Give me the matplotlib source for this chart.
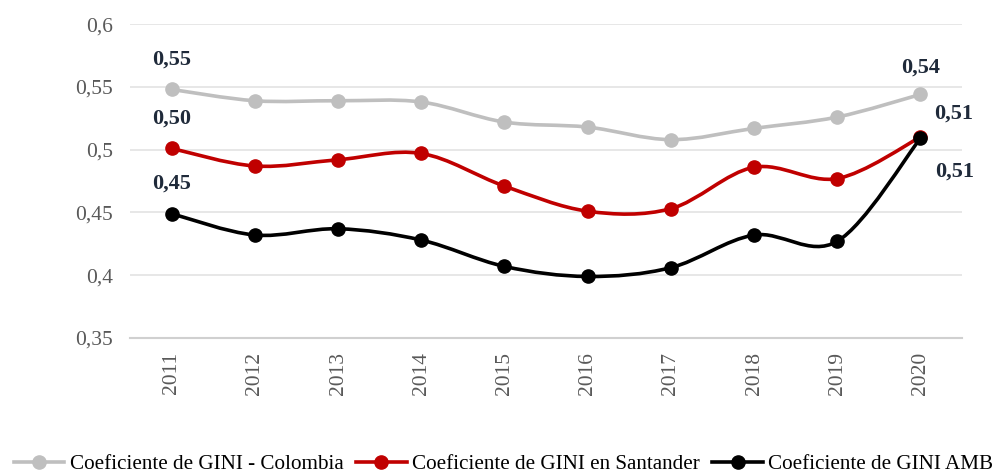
import numpy as np
import matplotlib.pyplot as plt
from matplotlib.path import Path
from matplotlib.patches import PathPatch
from matplotlib.lines import Line2D

plt.rcParams['font.family'] = ['Liberation Serif', 'DejaVu Serif']

years = ['2011', '2012', '2013', '2014', '2015', '2016', '2017', '2018', '2019', '2020']
colombia = [0.548, 0.539, 0.539, 0.538, 0.522, 0.518, 0.508, 0.517, 0.526, 0.544]
santander = [0.501, 0.487, 0.492, 0.497, 0.471, 0.451, 0.453, 0.486, 0.477, 0.510]
amb = [0.449, 0.432, 0.437, 0.428, 0.407, 0.399, 0.406, 0.432, 0.427, 0.509]

names = ['Coeficiente de GINI - Colombia', 'Coeficiente de GINI en Santander', 'Coeficiente de GINI AMB']
colors = ['#bfbfbf', '#c00000', '#000000']
label_col = '#1f2a3a'


def smooth_path(x, y):
    # excel-like smoothed line: cubic bezier, catmull-rom control points
    p = np.column_stack([x, y]).astype(float)
    verts = [p[0]]
    codes = [Path.MOVETO]
    n = len(p)
    for i in range(n - 1):
        p0 = p[max(i - 1, 0)]
        p1 = p[i]
        p2 = p[i + 1]
        p3 = p[min(i + 2, n - 1)]
        c1 = p1 + (p2 - p0) / 6.0
        c2 = p2 - (p3 - p1) / 6.0
        verts += [c1, c2, p2]
        codes += [Path.CURVE4] * 3
    return Path(verts, codes)


fig = plt.figure(figsize=(10.01, 4.74), dpi=100)
ax = fig.add_axes([0.13, 0.287, 0.831, 0.662])

x = np.arange(len(years))
handles = []
for vals, c, nm in zip([colombia, santander, amb], colors, names):
    ax.add_patch(PathPatch(smooth_path(x, vals), fill=False, edgecolor=c, lw=2.6, zorder=3))
    ax.plot(x, vals, 'o', color=c, ms=9.5, zorder=4)
    handles.append(Line2D([], [], color=c, lw=2.6, marker='o', ms=9.5, label=nm))

lab = dict(fontsize=16, fontweight='bold', color=label_col, ha='center', va='center',
           textcoords='offset points')
ax.annotate('0,55', (x[0], colombia[0]), xytext=(0, 21.5), **lab)
ax.annotate('0,50', (x[0], santander[0]), xytext=(0, 21.5), **lab)
ax.annotate('0,45', (x[0], amb[0]), xytext=(0, 21.5), **lab)
ax.annotate('0,54', (x[-1], colombia[-1]), xytext=(0, 19), **lab)
ax.annotate('0,51', (x[-1], santander[-1]), xytext=(24, 17), **lab)
ax.annotate('0,51', (x[-1], amb[-1]), xytext=(25, -24), **lab)

ax.set_xlim(-0.5, len(years) - 0.5)
ax.set_ylim(0.35, 0.6)
ax.set_yticks([0.35, 0.4, 0.45, 0.5, 0.55, 0.6])
ax.set_yticklabels(['0,35', '0,4', '0,45', '0,5', '0,55', '0,6'])
ax.set_xticks(x)
ax.set_xticklabels(years, rotation=90)
ax.tick_params(length=0, labelsize=15.5, labelcolor='#595959')
ax.tick_params(axis='y', pad=12.5)
ax.tick_params(axis='x', pad=10)
ax.grid(axis='y', color='#e3e3e3', lw=1.2)
ax.set_axisbelow(True)
for s in ['top', 'right', 'left']:
    ax.spines[s].set_visible(False)
ax.spines['bottom'].set_color('#d0d0d0')
ax.spines['bottom'].set_linewidth(1.5)

fig.legend(handles=handles, loc='lower center', bbox_to_anchor=(0.503, -0.041), ncol=3,
           frameon=False, fontsize=15.2, handlelength=2.4, handletextpad=0.25,
           columnspacing=0.6)

fig.savefig('out.png', dpi=100)
